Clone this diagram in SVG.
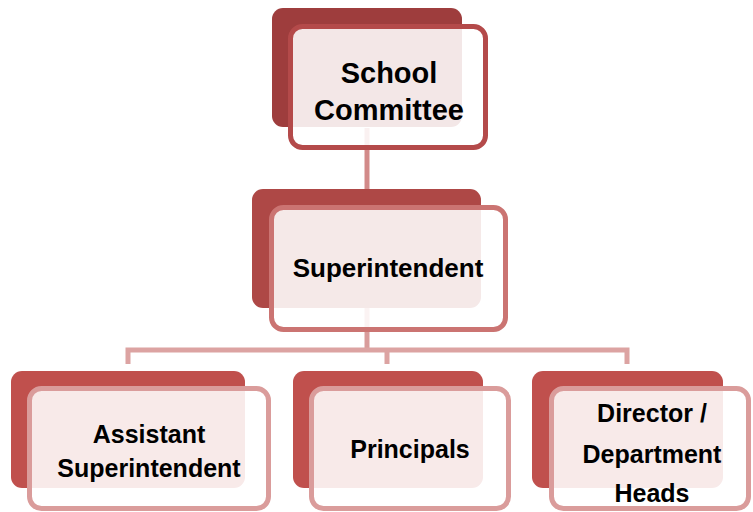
<svg xmlns="http://www.w3.org/2000/svg" width="753" height="512" viewBox="0 0 753 512">
<style>
.t{font-family:"Liberation Sans",Arial,sans-serif;font-weight:bold;fill:#000;text-anchor:middle}
.front{fill:#fff;fill-opacity:0.88;stroke-width:5}
.conn{fill:none;stroke-width:5}
</style>
<rect width="753" height="512" fill="#fff"/>
<g id="connectors">
<line class="conn" x1="367" y1="128" x2="367" y2="190" stroke="#D28A89"/>
<line class="conn" x1="367" y1="300" x2="367" y2="350" stroke="#D99C9B"/>
<path class="conn" d="M128,364 V350 H627 V364 M387,350 V364" stroke="#DCA3A2"/>
</g>
<g id="school-committee">
<rect x="272" y="8" width="190" height="119" rx="11" fill="#9E3D3D"/>
<rect class="front" x="290.5" y="26.5" width="195" height="121" rx="12" stroke="#B44A4A"/>
<text class="t" x="389" y="83" font-size="29">School</text>
<text class="t" x="389" y="120" font-size="29">Committee</text>
</g>
<g id="superintendent">
<rect x="252" y="189" width="229" height="119" rx="11" fill="#AE4846"/>
<rect class="front" x="271.5" y="207.5" width="234" height="122" rx="12" stroke="#CB7472"/>
<text class="t" x="388" y="277" font-size="26">Superintendent</text>
</g>
<g id="assistant-superintendent">
<rect x="11" y="371" width="234" height="117" rx="11" fill="#C0504D"/>
<rect class="front" x="29.5" y="388.5" width="239" height="120" rx="12" stroke="#DA9C9B"/>
<text class="t" x="149" y="443" font-size="25">Assistant</text>
<text class="t" x="149" y="477" font-size="25">Superintendent</text>
</g>
<g id="principals">
<rect x="293" y="371" width="190" height="117" rx="11" fill="#C0504D"/>
<rect class="front" x="311.5" y="388.5" width="197" height="120" rx="12" stroke="#DA9C9B"/>
<text class="t" x="410" y="458" font-size="25">Principals</text>
</g>
<g id="director-department-heads">
<rect x="532" y="371" width="191" height="117" rx="11" fill="#C0504D"/>
<rect class="front" x="551.5" y="388.5" width="197" height="120" rx="12" stroke="#DA9C9B"/>
<text class="t" x="652" y="422" font-size="25">Director /</text>
<text class="t" x="652" y="463" font-size="25">Department</text>
<text class="t" x="652" y="502" font-size="25">Heads</text>
</g>
</svg>
